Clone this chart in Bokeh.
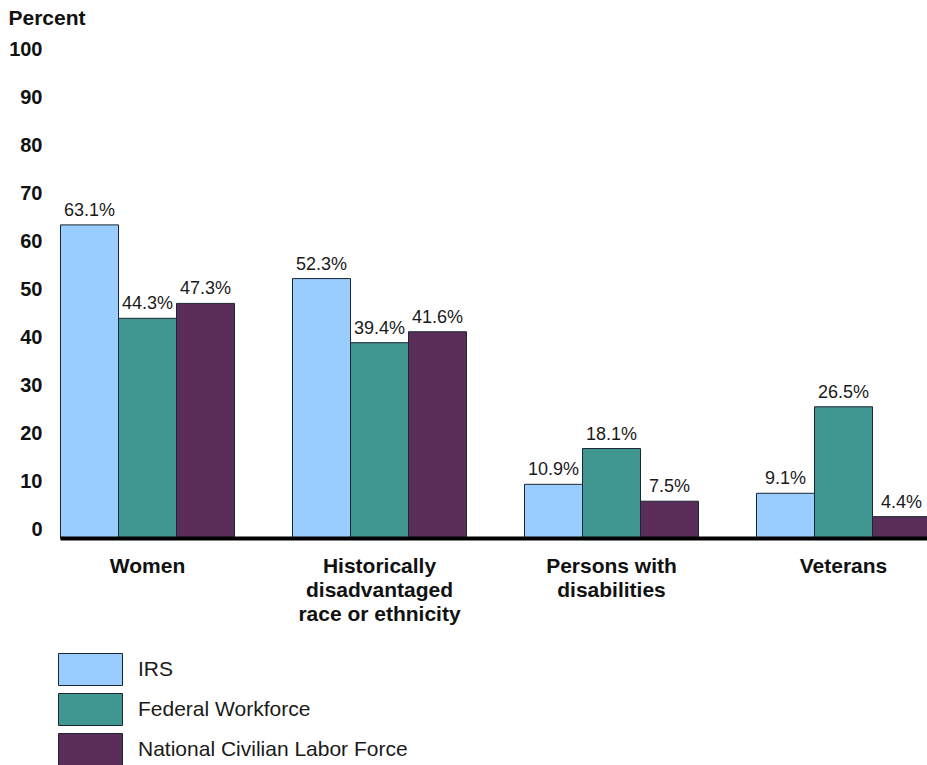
from bokeh.plotting import figure
from bokeh.models import Range1d, LinearAxis, FixedTicker, Legend, LegendItem
from bokeh.core.properties import value
from bokeh.embed import file_html
from bokeh.resources import INLINE

# ---- data ----
categories = ["Women", "Historically\ndisadvantaged\nrace or ethnicity",
              "Persons with\ndisabilities", "Veterans"]
irs = [63.1, 52.3, 10.9, 9.1]
federal = [44.3, 39.4, 18.1, 26.5]
nclf = [47.3, 41.6, 7.5, 4.4]
series_names = ["IRS", "Federal Workforce", "National Civilian Labor Force"]
series_values = [irs, federal, nclf]
series_colors = ["#99CCFF", "#409691", "#5B2E59"]
y_ticks = list(range(0, 101, 10))

FONT = "Liberation Sans"

n_groups = len(categories)
group_step = len(series_names) + 1

p = figure(width=927, height=765,
           x_range=Range1d(-0.1724, 14.948), y_range=Range1d(-45.674, 102.21),
           output_backend="svg", toolbar_location=None,
           x_axis_location=None, y_axis_location=None,
           title="Percent",
           min_border_left=50, min_border_right=0,
           min_border_top=30, min_border_bottom=0)
p.outline_line_color = None
p.xgrid.visible = False
p.ygrid.visible = False
p.background_fill_color = "white"
p.border_fill_color = "white"

p.title.align = "left"
p.title.offset = -42
p.title.standoff = 3
p.title.text_font = FONT
p.title.text_font_size = "21px"
p.title.text_font_style = "bold"
p.title.text_color = "#111111"

items = []
for s, (name, vals, col) in enumerate(zip(series_names, series_values, series_colors)):
    xs = [group_step * g + s + 0.5 for g in range(n_groups)]
    r = p.vbar(x=xs, top=vals, bottom=0, width=1.0, fill_color=col,
               line_color="#1c2633", line_width=1)
    items.append(LegendItem(label=name, renderers=[r]))
    p.text(x=xs, y=vals, text=[f"{v}%" for v in vals],
           text_align="center", text_baseline="alphabetic", y_offset=-15,
           text_font=value(FONT), text_font_size="18px", text_color="#1a1a1a")

# category axis baseline and labels
p.segment(x0=[0], y0=[0], x1=[group_step * n_groups], y1=[0],
          line_color="black", line_width=4)
cat_x = [group_step * g + 1.5 for g in range(n_groups)]
p.text(x=cat_x, y=[0] * n_groups, text=categories,
       text_align="center", text_baseline="top", y_offset=16,
       text_line_height=1.04,
       text_font=value(FONT), text_font_size="21px", text_font_style="bold",
       text_color="#111111")

# y axis (tick labels)
p.extra_y_ranges = {"ticks": Range1d(-49.32, 103.96)}
yaxis = LinearAxis(y_range_name="ticks", ticker=FixedTicker(ticks=y_ticks),
                   axis_line_color=None, major_tick_line_color=None,
                   minor_tick_line_color=None, major_tick_out=0, major_tick_in=0,
                   major_label_text_font=FONT, major_label_text_font_size="20px",
                   major_label_text_font_style="bold", major_label_text_color="#111111",
                   major_label_standoff=8)
p.add_layout(yaxis, "left")

lg = Legend(items=items, location=(0, -4), orientation="vertical",
            glyph_width=80, glyph_height=40, label_height=40, spacing=0,
            padding=0, margin=0, label_standoff=8,
            border_line_color=None, background_fill_alpha=0,
            label_text_font=FONT, label_text_font_size="21px",
            label_text_color="#1a1a1a")
p.add_layout(lg, "center")

open("out.html", "w").write(file_html(p, INLINE))
